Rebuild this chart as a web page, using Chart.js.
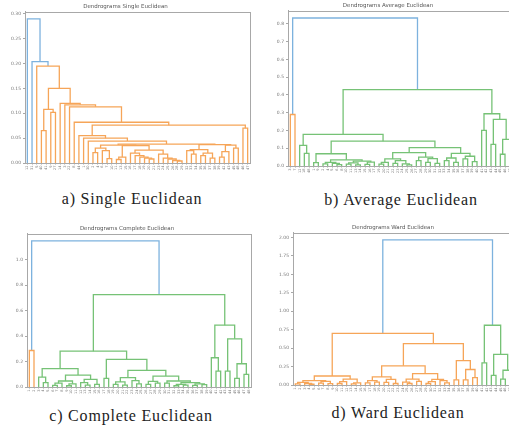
<!DOCTYPE html>
<html><head><meta charset="utf-8">
<script src="https://cdn.jsdelivr.net/npm/chart.js@4.4.1/dist/chart.umd.min.js"></script>
<style>
html,body{margin:0;padding:0;background:#fff;width:509px;height:436px;overflow:hidden;position:relative}
canvas{position:absolute;left:0;top:0}
.cap{position:absolute;font-family:"Liberation Serif","Times New Roman",serif;font-size:16px;letter-spacing:0.8px;color:#222;white-space:nowrap;transform:translate(-50%,-50%)}
</style></head><body>
<div class="cap" style="left:132px;top:199px">a) Single Euclidean</div>
<div class="cap" style="left:401px;top:200px">b) Average Euclidean</div>
<div class="cap" style="left:131px;top:416px">c) Complete Euclidean</div>
<div class="cap" style="left:398px;top:413px">d) Ward Euclidean</div>
<canvas id="ca"></canvas><canvas id="cb"></canvas><canvas id="cc"></canvas><canvas id="cd"></canvas>
<script>
// ---- data: merge trees [height, left, right]; leaves are leaf labels ----
const singleLow = [0.038,
  [0.036,
    [0.030, [0.021, 2, 4], [0.025, 6, [0.009, 7, 10]]],
    [0.035,
      [0.012, [0.007, 11, 13], 15],
      [0.026,
        [0.020, 16, [0.015, 17, [0.012, 18, [0.010, 19, [0.008, 20, 21]]]]],
        [0.018, 23, [0.010, 24, [0.008, 25, [0.005, 26, [0.004, 28, 29]]]]]]]],
  [0.037,
    [0.027, [0.025, 32, [0.018, 33, 34]], [0.020, [0.015, 35, 36], [0.010, 37, 38]]],
    [0.036, [0.023, [0.012, 39, 42], 43], [0.030, 45, 48]]]];
const singleTree = [0.290, 12,
  [0.204, 31,
    [0.195, 5,
      [0.150,
        [0.108, [0.065, 40, 41], [0.102, 9, 27]],
        [0.120, 14,
          [0.117, 3,
            [0.113, 22,
              [0.082, 8,
                [0.076,
                  [0.055, 44, [0.050, 1, [0.044, 30, singleLow]]],
                  [0.070, 46, 47]]]]]]]]]];

const avgP2 = [0.035, [0.020, [0.012, 2, 4], [0.015, 5, [0.008, 6, 8]]],
  [0.028, [0.018, [0.010, 10, 11], [0.006, 13, 14]], [0.022, [0.009, 15, 16], 17]]];
const avgQ = [0.103,
  [0.075,
    [0.040, [0.020, [0.010, 19, 20], 21], [0.030, [0.015, 22, 23], [0.012, 24, [0.006, 25, 26]]]],
    [0.050, [0.030, 27, 28], [0.042, [0.020, 29, 30], [0.015, 31, 32]]]],
  [0.071,
    [0.045, [0.030, 33, 34], [0.020, 35, 36]],
    [0.055, [0.040, 37, 38], [0.025, 39, 40]]]];
const avgRight = [0.294, [0.200, 41, 42], [0.262, [0.122, 43, 44], [0.150, [0.066, 45, 46], 47]]];
const averageTree = [0.833, [0.290, 3, 7],
  [0.430,
    [0.178, [0.116, 12, [0.071, 18, 48]], [0.140, [0.069, [0.019, 1, 9], avgP2], avgQ]],
    avgRight]];

const compC1b = [0.094, [0.047, [0.030, [0.012, 6, 7], 8], [0.025, [0.010, 9, 10], 11]],
  [0.060, [0.035, 12, [0.015, 13, 14]], [0.020, 15, 16]]];
const compC2b = [0.130,
  [0.073, [0.040, [0.020, 19, 20], [0.015, 21, 22]], [0.050, 23, [0.025, 24, 25]]],
  [0.086,
    [0.045, [0.020, 26, 27], [0.030, 28, 29]],
    [0.047, [0.030, 30, 31], [0.035, [0.020, [0.010, 32, 33], [0.015, 34, 35]], [0.025, [0.012, 36, 37], [0.018, 38, 39]]]]]];
const compRight = [0.486, [0.230, 40, [0.125, 41, 42]], [0.379, [0.125, 43, 44], [0.183, [0.068, 45, 46], [0.100, 47, 48]]]];
const completeTree = [1.149, [0.287, 1, 2],
  [0.726,
    [0.282, [0.144, [0.078, 3, [0.034, 4, 5]], compC1b], [0.217, [0.068, 17, 18], compC2b]],
    compRight]];

const wardO1 = [0.122, [0.060, [0.035, [0.015, 1, 2], [0.020, 3, [0.010, 4, 5]]], [0.050, [0.025, 6, 7], [0.018, 8, 9]]],
  [0.080, [0.045, [0.020, 10, 11], 12], [0.030, [0.015, 13, 14], 15]]];
const wardO2L = [0.260,
  [0.110, [0.060, [0.030, 16, 17], [0.040, 18, 19]], [0.077, [0.035, 20, 21], [0.020, 22, 23]]],
  [0.154, [0.080, [0.040, 24, [0.020, 25, 26]], [0.050, 27, 28]], [0.077, [0.045, [0.020, 29, 30], 31], [0.060, 32, [0.030, 33, 34]]]]];
const wardO2R = [0.330, [0.070, 35, 36], [0.210, [0.070, 37, 38], [0.100, 39, 40]]];
const wardGreen = [0.810, [0.300, 41, 42], [0.416, [0.130, 43, 44], [0.200, [0.080, 45, 46], [0.100, 47, 48]]]];
const wardTree = [1.968, [0.700, wardO1, [0.560, wardO2L, wardO2R]], wardGreen];

const singleYTicks = [0, 0.05, 0.10, 0.15, 0.20, 0.25, 0.30];
const averageYTicks = [0, 0.1, 0.2, 0.3, 0.4, 0.5, 0.6, 0.7, 0.8];
const completeYTicks = [0, 0.2, 0.4, 0.6, 0.8, 1.0];
const wardYTicks = [0, 0.25, 0.50, 0.75, 1.00, 1.25, 1.50, 1.75, 2.00];

// ---- styling ----
const ABOVE = 'rgb(125,178,222)';
const PALETTE = ['rgb(246,165,88)', 'rgb(118,194,118)', 'rgb(214,120,120)'];
const AXIS = '#a8a8a8';
const TXT = '#777';

function dendro(tree) {
  const leaves = [], links = [];
  function walk(n) {
    if (!Array.isArray(n)) { const x = 5 + 10 * leaves.length; leaves.push(String(n)); return { x, h: 0, leaf: true }; }
    const a = walk(n[1]), b = walk(n[2]);
    const node = { x: (a.x + b.x) / 2, h: n[0], a, b };
    links.push(node);
    return node;
  }
  const root = walk(tree);
  const thr = 0.7 * root.h;
  let k = 0;
  function paint(n, c) {
    if (n.leaf) return;
    if (!c && n.h < thr) c = PALETTE[k++ % PALETTE.length];
    n.color = c || ABOVE;
    paint(n.a, c); paint(n.b, c);
  }
  paint(root, null);
  return { leaves, links };
}

const framePlugin = {
  id: 'frame',
  afterDraw(chart) {
    const { ctx, chartArea: a } = chart;
    ctx.save(); ctx.strokeStyle = AXIS; ctx.lineWidth = 1;
    ctx.strokeRect(Math.round(a.left) + 0.5, Math.round(a.top) + 0.5, Math.round(a.right - a.left), Math.round(a.bottom - a.top));
    ctx.restore();
  }
};

function config(tree, yTicks, dec, ymax, title) {
  const d = dendro(tree);
  const n = d.leaves.length;
  return {
    type: 'line',
    data: {
      datasets: d.links.map(l => ({
        data: [{ x: l.a.x, y: l.a.h }, { x: l.a.x, y: l.h }, { x: l.b.x, y: l.h }, { x: l.b.x, y: l.b.h }],
        borderColor: l.color, borderWidth: 1.3, pointRadius: 0, fill: false, tension: 0, clip: 2
      }))
    },
    options: {
      responsive: false, animation: false, devicePixelRatio: 1,
      layout: { padding: { left: 0, right: 3, top: 0, bottom: 0 } },
      plugins: {
        legend: { display: false }, tooltip: { enabled: false },
        title: { display: true, text: title, color: '#555', font: { family: 'DejaVu Sans', size: 5.5, weight: 'normal' }, padding: { top: 1, bottom: 2 } }
      },
      scales: {
        x: {
          type: 'linear', min: 0, max: 10 * n,
          afterBuildTicks: s => { s.ticks = d.leaves.map((_, i) => ({ value: 5 + 10 * i })); },
          afterFit: s => { s.height = 14; },
          ticks: { autoSkip: false, minRotation: 90, maxRotation: 90, padding: 1, color: TXT,
            font: { family: 'DejaVu Sans', size: 3.5 }, callback: (v, i) => d.leaves[i] },
          grid: { display: true, drawOnChartArea: false, drawTicks: true, tickLength: 1.5, color: AXIS },
          border: { display: true, color: AXIS }
        },
        y: {
          type: 'linear', min: 0, max: ymax,
          afterBuildTicks: s => { s.ticks = yTicks.map(v => ({ value: v })); },
          afterFit: s => { s.width = 24; },
          ticks: { padding: 2, color: TXT, font: { family: 'DejaVu Sans', size: 4.5 }, callback: v => Number(v).toFixed(dec) },
          grid: { display: true, drawOnChartArea: false, drawTicks: true, tickLength: 2, color: AXIS },
          border: { display: true, color: AXIS }
        }
      }
    },
    plugins: [framePlugin]
  };
}

function build(id, tree, yTicks, dec, title, target) {
  const cv = document.getElementById(id);
  const ymax = tree[0] * 1.05;
  cv.width = target.w + 40; cv.height = target.h + 40;
  let ch = new Chart(cv, config(tree, yTicks, dec, ymax, title));
  let a = ch.chartArea;
  const W = cv.width + target.w - (a.right - a.left);
  const H = cv.height + target.h - (a.bottom - a.top);
  ch.destroy();
  cv.width = W; cv.height = H;
  ch = new Chart(cv, config(tree, yTicks, dec, ymax, title));
  a = ch.chartArea;
  cv.style.left = (target.x - a.left) + 'px';
  cv.style.top = (target.y - a.top) + 'px';
}

build('ca', singleTree, singleYTicks, 2, 'Dendrograms Single Euclidean', { x: 25, y: 12, w: 225, h: 152 });
build('cb', averageTree, averageYTicks, 1, 'Dendrograms Average Euclidean', { x: 288, y: 11, w: 224, h: 156 });
build('cc', completeTree, completeYTicks, 1, 'Dendrograms Complete Euclidean', { x: 27, y: 234, w: 224, h: 154 });
build('cd', wardTree, wardYTicks, 2, 'Dendrograms Ward Euclidean', { x: 293, y: 233, w: 224, h: 153 });
</script>
</body></html>
